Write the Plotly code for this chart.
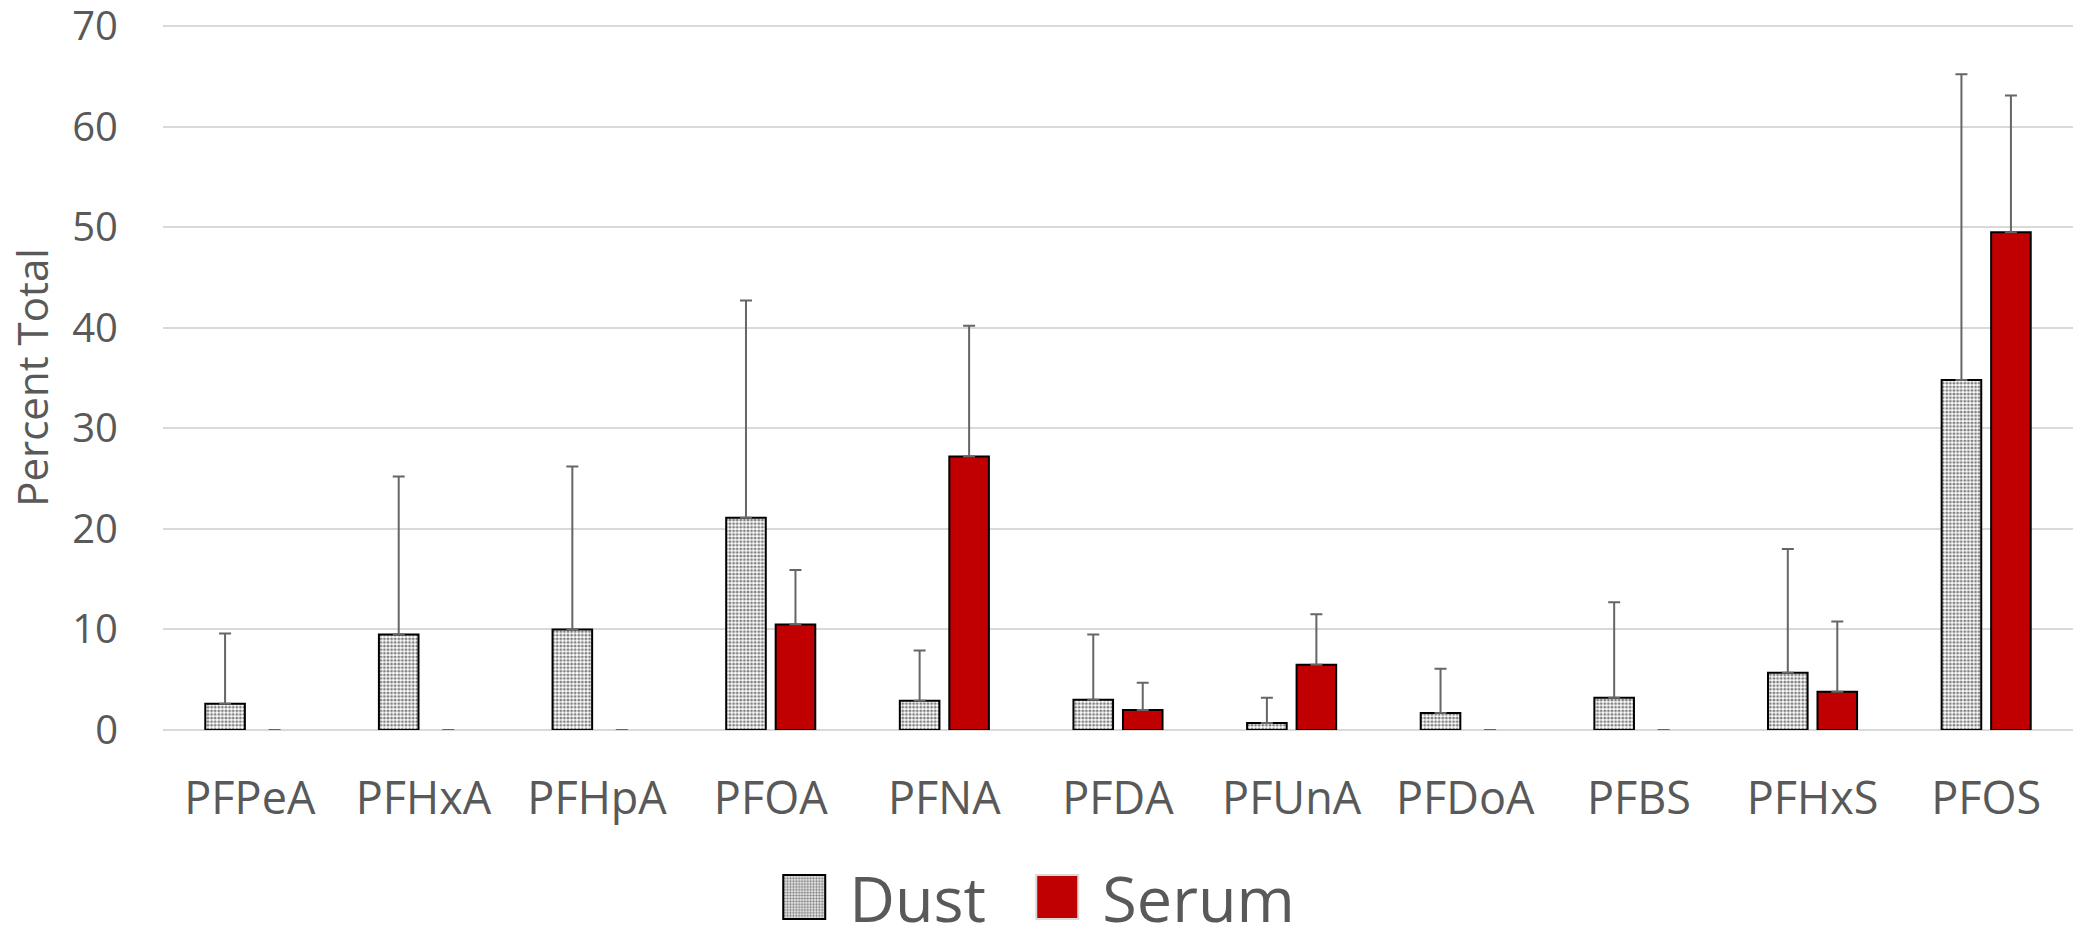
import plotly.graph_objects as go

categories = ["PFPeA", "PFHxA", "PFHpA", "PFOA", "PFNA", "PFDA", "PFUnA",
              "PFDoA", "PFBS", "PFHxS", "PFOS"]
dust_values = [2.6, 9.5, 10.0, 21.1, 2.9, 3.0, 0.7, 1.7, 3.2, 5.7, 34.8]
dust_err = [7.0, 15.7, 16.2, 21.6, 5.0, 6.5, 2.5, 4.4, 9.5, 12.3, 30.4]
serum_values = [0, 0, 0, 10.5, 27.2, 2.0, 6.5, 0, 0, 3.8, 49.5]
serum_err = [None, None, None, 5.4, 13.0, 2.7, 5.0, None, None, 7.0, 13.6]
y_ticks = [0, 10, 20, 30, 40, 50, 60, 70]

TEXT = "#595959"


def outline(values):
    # zero-height bars only show as a faint dash on the baseline
    return ["black" if v > 0 else "#D9D9D9" for v in values]


fig = go.Figure()
fig.add_trace(go.Bar(
    name="Dust", x=categories, y=dust_values,
    marker=dict(color="white",
                line=dict(color=outline(dust_values), width=2),
                pattern=dict(shape=".", fgcolor="black", bgcolor="white",
                             size=3.6, solidity=0.5, fillmode="overlay")),
    error_y=dict(type="data", array=dust_err, symmetric=False,
                 arrayminus=[0] * len(dust_err),
                 color="#666666", thickness=2, width=6),
))
fig.add_trace(go.Bar(
    name="Serum", x=categories, y=serum_values,
    marker=dict(color="#C00000", line=dict(color=outline(serum_values), width=2)),
    error_y=dict(type="data",
                 array=[e if e is not None else float("nan") for e in serum_err],
                 symmetric=False, arrayminus=[0] * len(serum_err),
                 color="#666666", thickness=2, width=6),
))

fig.update_layout(
    width=2073, height=925,
    margin=dict(l=163, r=0, t=25, b=195, autoexpand=False),
    paper_bgcolor="white", plot_bgcolor="white",
    barmode="group", bargap=0.43, bargroupgap=0.2,
    showlegend=True,
    legend=dict(orientation="h", x=0.3174, xanchor="left", y=-0.237, yanchor="middle",
                font=dict(family="Liberation Sans Narrow, Open Sans, sans-serif",
                          size=63, color=TEXT),
                itemwidth=70, traceorder="normal", bgcolor="rgba(0,0,0,0)",
                entrywidth=168, entrywidthmode="pixels"),
    font=dict(family="Open Sans, sans-serif", color=TEXT),
)
fig.update_xaxes(showgrid=False, showline=False, zeroline=False,
                 tickfont=dict(family="Open Sans", size=45, color=TEXT),
                 ticklabelstandoff=38)
fig.update_yaxes(range=[0, 70.1], tickvals=y_ticks, showgrid=True,
                 gridcolor="#D9D9D9", gridwidth=1.5,
                 zeroline=True, zerolinecolor="#D9D9D9", zerolinewidth=1.5,
                 showline=False, ticklabeloverflow="allow",
                 tickfont=dict(family="Open Sans", size=40, color=TEXT),
                 ticklabelstandoff=44,
                 title=dict(text="Percent Total", standoff=10,
                            font=dict(family="Liberation Sans Narrow, Open Sans, sans-serif",
                                      size=42, color=TEXT)))

post = """
document.documentElement.style.margin = '0';
document.body.style.margin = '0';
var gd = document.getElementById('{plot_id}');
function fixLegend(){
  gd.querySelectorAll('g.legend g.legendpoints path').forEach(function(p){
    p.setAttribute('d','M16,22H-26V-22H16Z');
  });
  gd.querySelectorAll('g.legend [clip-path]').forEach(function(e){
    e.removeAttribute('clip-path');
  });
}
fixLegend();
gd.on('plotly_afterplot', fixLegend);
setTimeout(fixLegend, 50);
setTimeout(fixLegend, 300);
"""
fig.write_html("out.html", post_script=post, config={"displayModeBar": False})
